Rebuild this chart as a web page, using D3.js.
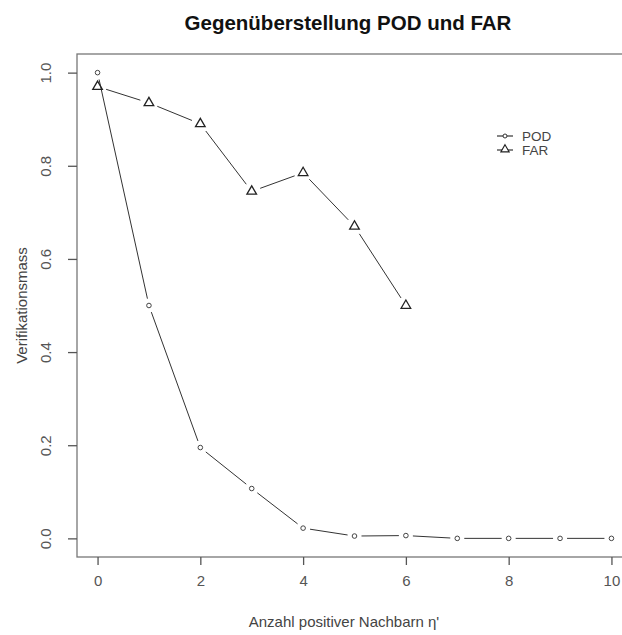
<!DOCTYPE html>
<html>
<head>
<meta charset="utf-8">
<script src="https://cdn.jsdelivr.net/npm/d3@7"></script>
<style>
  body { margin: 0; background: #fff; }
  svg { display: block; }
</style>
</head>
<body>
<script>
// data
const nachbarn = [0, 1, 2, 3, 4, 5, 6, 7, 8, 9, 10];
const pod = [1.0, 0.5, 0.195, 0.107, 0.022, 0.005, 0.006, 0, 0, 0, 0];
const farX = [0, 1, 2, 3, 4, 5, 6];
const far = [0.97, 0.935, 0.89, 0.745, 0.785, 0.67, 0.5];
const xTicks = [0, 2, 4, 6, 8, 10];
const yTicks = [0, 0.2, 0.4, 0.6, 0.8, 1.0];
const seriesNames = ['POD', 'FAR'];

const w = 622, h = 635;
const box = { left: 77, top: 54, right: 632, bottom: 557 };
const font = '"Liberation Sans", Arial, sans-serif';

const svg = d3.select('body').append('svg')
  .attr('width', w)
  .attr('height', h)
  .style('font-family', font);

// R style: 4% padding on both ends
const x = d3.scaleLinear().domain([-0.4, 10.4]).range([box.left, box.right]);
const y = d3.scaleLinear().domain([-0.04, 1.04]).range([box.bottom, box.top]);

const grey = '#555';

// title
svg.append('text')
  .attr('x', 348)
  .attr('y', 30)
  .attr('text-anchor', 'middle')
  .attr('font-size', 20.5)
  .attr('font-weight', 'bold')
  .attr('fill', '#111')
  .text('Gegenüberstellung POD und FAR');

// box
svg.append('rect')
  .attr('x', box.left)
  .attr('y', box.top)
  .attr('width', box.right - box.left)
  .attr('height', box.bottom - box.top)
  .attr('fill', 'none')
  .attr('stroke', '#777')
  .attr('stroke-width', 1.3);

// x axis
const xAxis = d3.axisBottom(x).tickValues(xTicks).tickSize(8).tickPadding(10).tickFormat(d3.format('d'));
const gx = svg.append('g').attr('transform', `translate(0,${box.bottom})`).call(xAxis);
gx.select('.domain').remove();
gx.selectAll('line').attr('stroke', '#555').attr('stroke-width', 1.3);
gx.selectAll('text').attr('font-size', 15).attr('fill', grey).attr('font-family', font);

// y axis, labels rotated like R
const yAxis = d3.axisLeft(y).tickValues(yTicks).tickSize(9).tickFormat(d3.format('.1f'));
const gy = svg.append('g').attr('transform', `translate(${box.left},0)`).call(yAxis);
gy.select('.domain').remove();
gy.selectAll('line').attr('stroke', '#555').attr('stroke-width', 1.3);
gy.selectAll('text')
  .attr('font-size', 15)
  .attr('fill', grey)
  .attr('font-family', font)
  .attr('x', null)
  .attr('dy', null)
  .attr('text-anchor', 'middle')
  .attr('transform', 'translate(-26,0) rotate(-90)');

// axis titles
svg.append('text')
  .attr('x', 344)
  .attr('y', 627)
  .attr('text-anchor', 'middle')
  .attr('font-size', 15)
  .attr('fill', '#444')
  .text("Anzahl positiver Nachbarn η'");

svg.append('text')
  .attr('transform', `translate(27,${(box.top + box.bottom) / 2}) rotate(-90)`)
  .attr('text-anchor', 'middle')
  .attr('font-size', 15)
  .attr('fill', '#444')
  .text('Verifikationsmass');

// type = "b": segments with gaps around the points
const gapped = (pts, gap) => {
  const segs = [];
  for (let i = 0; i < pts.length - 1; i++) {
    const [x1, y1] = pts[i], [x2, y2] = pts[i + 1];
    const len = Math.hypot(x2 - x1, y2 - y1);
    if (len <= 2 * gap) continue;
    const ux = (x2 - x1) / len, uy = (y2 - y1) / len;
    segs.push([x1 + ux * gap, y1 + uy * gap, x2 - ux * gap, y2 - uy * gap]);
  }
  return segs;
};

const podPts = nachbarn.map((d, i) => [x(d), y(pod[i])]);
const farPts = farX.map((d, i) => [x(d), y(far[i])]);

const drawLines = (pts, gap) => {
  svg.append('g').selectAll('line')
    .data(gapped(pts, gap))
    .enter().append('line')
    .attr('x1', d => d[0]).attr('y1', d => d[1])
    .attr('x2', d => d[2]).attr('y2', d => d[3])
    .attr('stroke', '#333')
    .attr('stroke-width', 1);
};
drawLines(podPts, 7);
drawLines(farPts, 9);

const tri = d3.symbol().type(d3.symbolTriangle).size(40);

svg.append('g').selectAll('circle')
  .data(podPts)
  .enter().append('circle')
  .attr('cx', d => d[0]).attr('cy', d => d[1])
  .attr('r', 2.3)
  .attr('fill', 'none')
  .attr('stroke', '#444')
  .attr('stroke-width', 1);

svg.append('g').selectAll('path')
  .data(farPts)
  .enter().append('path')
  .attr('transform', d => `translate(${d[0]},${d[1]})`)
  .attr('d', tri)
  .attr('fill', 'none')
  .attr('stroke', '#222')
  .attr('stroke-width', 1.3);

// legend
const legend = svg.append('g').attr('transform', 'translate(497,136)');
const entry = legend.selectAll('g')
  .data(seriesNames)
  .enter().append('g')
  .attr('transform', (d, i) => `translate(0,${i * 14})`);
entry.append('line')
  .attr('x1', 0).attr('x2', 16).attr('y1', 0).attr('y2', 0)
  .attr('stroke', '#222').attr('stroke-width', 1.1);
entry.filter(d => d === 'POD').append('circle')
  .attr('cx', 8).attr('cy', 0).attr('r', 2)
  .attr('fill', '#fff').attr('stroke', '#333');
entry.filter(d => d === 'FAR').append('path')
  .attr('transform', 'translate(8,-0.5)')
  .attr('d', d3.symbol().type(d3.symbolTriangle).size(30))
  .attr('fill', '#fff').attr('stroke', '#222').attr('stroke-width', 1.1);
entry.append('text')
  .attr('x', 25).attr('y', 5)
  .attr('font-size', 13.5)
  .attr('fill', '#444')
  .text(d => d);
</script>
</body>
</html>
